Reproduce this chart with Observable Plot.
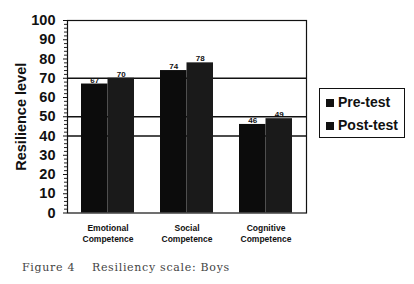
<!DOCTYPE html>
<html>
<head>
<meta charset="utf-8">
<script src="https://cdn.jsdelivr.net/npm/d3@7"></script>
<script src="https://cdn.jsdelivr.net/npm/@observablehq/plot@0.6"></script>
<style>
  body { margin: 0; background: #fff; }
  #wrap { position: relative; width: 414px; height: 284px; overflow: hidden; font-family: "Liberation Sans", Arial, sans-serif; }
  #chart { position: absolute; left: 0; top: 0; }
  #legend { position: absolute; left: 319px; top: 88px; width: 86px; height: 50px; border: 1px solid #111; box-sizing: border-box; background: #fff; }
  .item { position: absolute; left: 6px; font-weight: bold; font-size: 14px; line-height: 14px; color: #111; white-space: nowrap; }
  .sw { display: inline-block; width: 8px; height: 8px; background: #111; margin-right: 4px; vertical-align: 0px; }
  #caption { position: absolute; left: 22px; top: 261px; font-family: "DejaVu Serif", serif; font-size: 11px; color: #444; white-space: pre; letter-spacing: 0.7px; }
</style>
</head>
<body>
<div id="wrap">
  <div id="chart"></div>
  <div id="legend"></div>
  <div id="caption"></div>
</div>
<script>
const categories = ["Emotional Competence", "Social Competence", "Cognitive Competence"];
const series = ["Pre-test", "Post-test"];
const preTest = [67, 74, 46];
const postTest = [70, 78, 49];
const yTicks = [0, 10, 20, 30, 40, 50, 60, 70, 80, 90, 100];
const minorTicks = [2,4,6,8,12,14,16,18,22,24,26,28,32,34,36,38,42,44,46,48,52,54,56,58,62,64,66,68,72,74,76,78,82,84,86,88,92,94,96,98];
const gridValues = [40, 50, 70];
const captionText = "Figure 4    Resiliency scale: Boys";
const yLabel = "Resilience level";

const pre = categories.map((c, i) => ({category: c, series: series[0], value: preTest[i]}));
const post = categories.map((c, i) => ({category: c, series: series[1], value: postTest[i]}));

const half = 26.5;
const chart = Plot.plot({
  width: 414,
  height: 250,
  marginLeft: 67,
  marginRight: 108,
  marginTop: 20,
  marginBottom: 37.5,
  style: {fontFamily: "Liberation Sans, Arial, sans-serif", color: "#111", background: "transparent"},
  x: {domain: categories, paddingInner: 0.333, paddingOuter: 0.17},
  y: {domain: [0, 100]},
  marks: [
    Plot.ruleY(gridValues, {stroke: "#111", strokeWidth: 1.3}),
    Plot.barY(pre, {x: "category", y: "value", fill: "#0c0c0c", insetRight: half}),
    Plot.barY(post, {x: "category", y: "value", fill: "#1a1a1a", insetLeft: half}),
    Plot.text(pre, {x: "category", y: "value", text: d => String(d.value), dx: -half / 2, dy: -1.5, lineAnchor: "bottom", fontSize: 8, fontWeight: "bold", fill: "#111"}),
    Plot.text(post, {x: "category", y: "value", text: d => String(d.value), dx: half / 2, dy: -1.5, lineAnchor: "bottom", fontSize: 8, fontWeight: "bold", fill: "#111"}),
    Plot.frame({stroke: "#111", strokeWidth: 1.2}),
    Plot.axisY({ticks: minorTicks, tickSize: 3, tickFormat: () => "", label: null, stroke: "#222"}),
    Plot.axisY({ticks: yTicks, tickSize: 4, tickPadding: 8, fontSize: 14.5, fontWeight: "bold", label: yLabel, labelAnchor: "center", labelOffset: 52, labelArrow: "none"}),
    Plot.axisX({tickSize: 0, tickPadding: 10, fontSize: 8.5, fontWeight: "bold", lineHeight: 1.3, label: null, tickFormat: d => d.replace(" ", "\n")})
  ]
});
document.getElementById("chart").appendChild(chart);

const legend = document.getElementById("legend");
series.forEach((s, i) => {
  const el = document.createElement("div");
  el.className = "item";
  el.style.top = (i === 0 ? 6 : 29) + "px";
  const sw = document.createElement("span");
  sw.className = "sw";
  el.appendChild(sw);
  el.appendChild(document.createTextNode(s));
  legend.appendChild(el);
});
document.getElementById("caption").textContent = captionText;
</script>
</body>
</html>
